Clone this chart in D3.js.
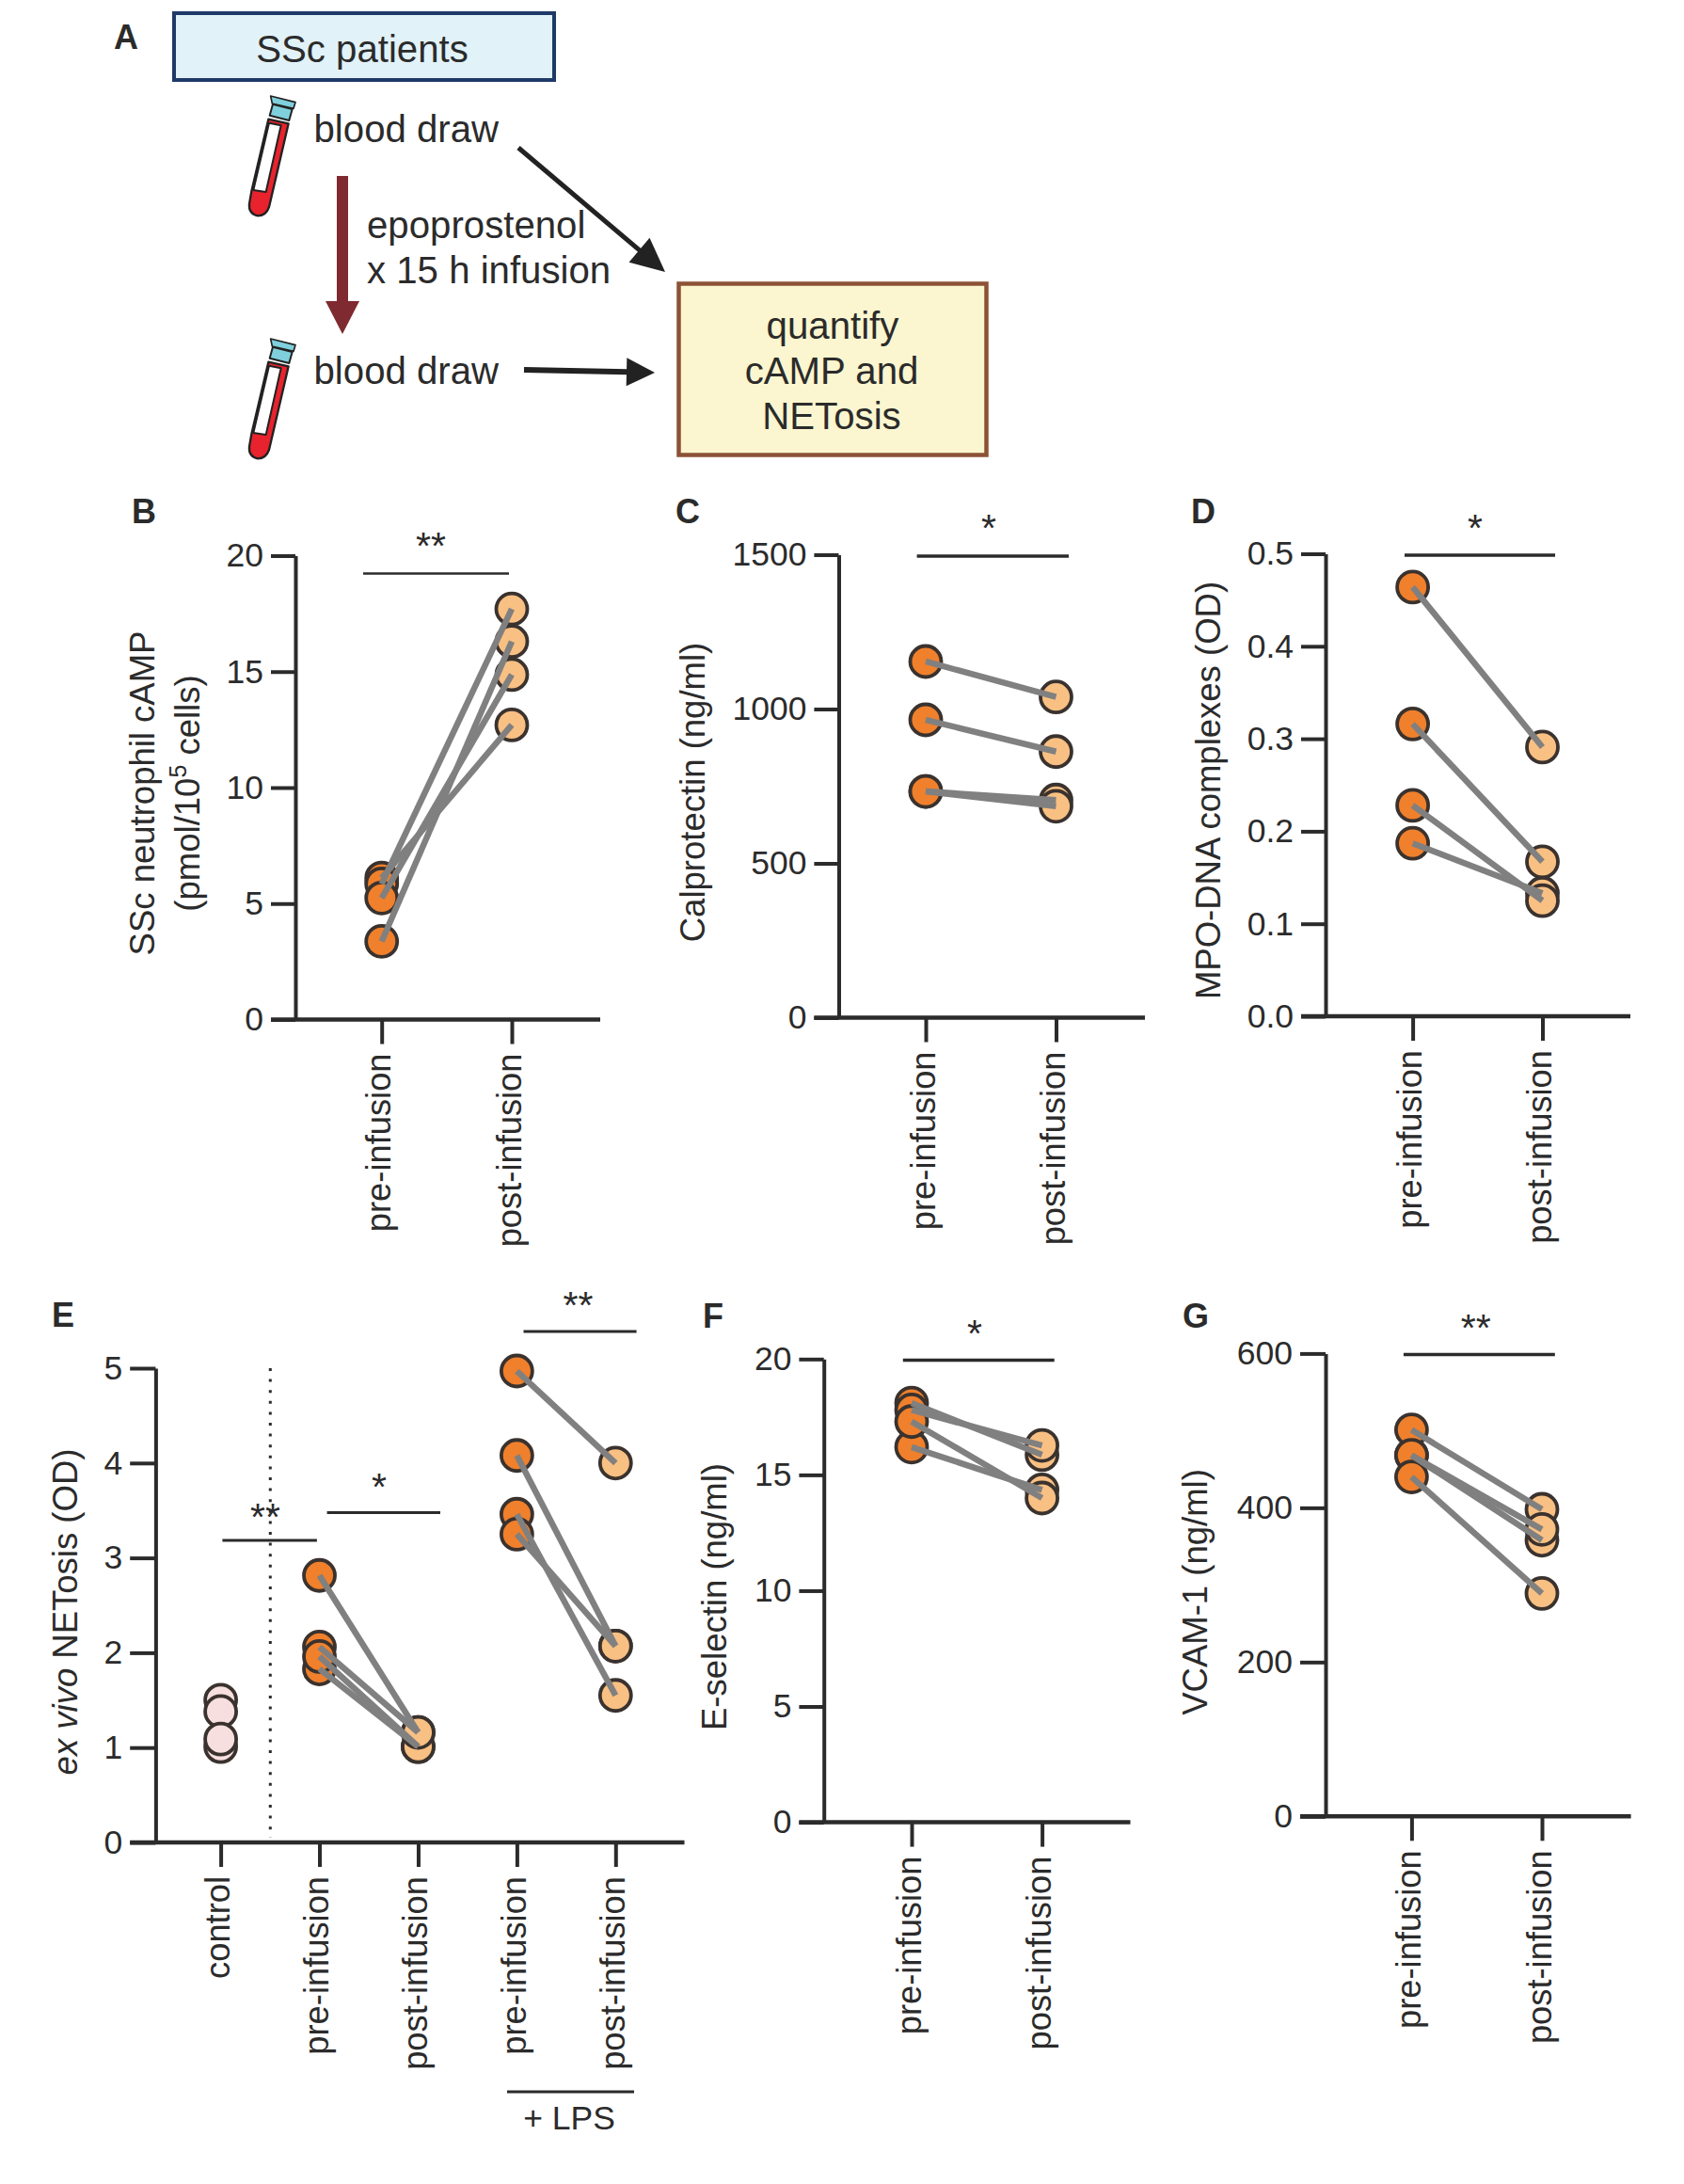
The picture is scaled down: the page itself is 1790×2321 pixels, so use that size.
<!DOCTYPE html>
<html><head><meta charset="utf-8">
<script src="https://cdnjs.cloudflare.com/ajax/libs/d3/7.8.5/d3.min.js"></script>
<style>html,body{margin:0;padding:0;background:#fff}svg{display:block}text{font-family:"Liberation Sans",Arial,sans-serif;fill:#2b2b2b}</style>
</head><body><script>
// ---- data ----
const prePost = ["pre-infusion","post-infusion"];
const eCats = ["control","pre-infusion","post-infusion","pre-infusion ","post-infusion "];
const bTicks=[0,5,10,15,20], bPre=[6.1,5.85,3.37,5.24], bPost=[12.7,17.7,16.3,14.87];
const cTicks=[0,500,1000,1500], cPre=[1154,965,733,733], cPost=[1039,862,705,685];
const dTicks=[0,.1,.2,.3,.4,.5], dPre=[.464,.316,.187,.228], dPost=[.291,.167,.133,.125];
const eTicks=[0,1,2,3,4,5], eControl=[1.5,1.01,1.38,1.09];
const ePre=[1.83,2.06,1.96,2.815], ePost=[1.01,1.16,1.01,1.16];
const eLpsPre=[4.97,4.08,3.46,3.25], eLpsPost=[4.0,2.07,1.55,2.07];
const fTicks=[0,5,10,15,20], fPre=[18.1,17.8,16.2,17.3], fPost=[15.87,16.27,14.35,14.0];
const gTicks=[0,200,400,600], gPre=[468,501,468,440], gPost=[358,398,372,289];

const W=1790,H=2321, ink="#2b2b2b", grey="#808080", dark="#3a322e",
  orange="#f0802c", light="#f9c083", pink="#f8dfdf";
const svg=d3.select("body").append("svg").attr("width",W).attr("height",H);
svg.append("rect").attr("width",W).attr("height",H).attr("fill","#fff");

function panelAxes(o){
  const y=d3.scaleLinear().domain([0,o.max]).range([o.y0,o.yTop]);
  const x=d3.scalePoint().domain(o.cats).range(o.xr);
  const g=svg.append("g");
  const ya=g.append("g").attr("transform",`translate(${o.axisX},0)`)
    .call(d3.axisLeft(y).tickValues(o.ticks).tickSize(o.axisX-o.tickL).tickSizeOuter(0).tickPadding(8).tickFormat(o.fmt||(d=>d)));
  ya.selectAll("path,line").attr("stroke",ink).attr("stroke-width",4);
  ya.selectAll("text").attr("font-size",35.5).attr("font-family",null).attr("fill",ink);
  const xa=g.append("g").attr("transform",`translate(0,${o.y0})`)
    .call(d3.axisBottom(x).tickSize(26).tickSizeOuter(0).tickPadding(11).tickFormat(d=>d.trim()));
  xa.select(".domain").remove();
  xa.selectAll("line").attr("stroke",ink).attr("stroke-width",4);
  xa.selectAll("text").attr("font-size",36.3).attr("fill",ink)
    .attr("text-anchor","end").attr("transform","rotate(-90)").attr("x",-36).attr("y",9).attr("dy",0);
  g.append("line").attr("x1",o.tickL).attr("x2",o.xEnd).attr("y1",o.y0).attr("y2",o.y0).attr("stroke",ink).attr("stroke-width",4.5);
  return {x,y,g};
}
function dots(p,cat,vals,fill){
  p.g.selectAll(null).data(vals).join("circle").attr("cx",p.x(cat)).attr("cy",d=>p.y(d)).attr("r",16.5)
    .attr("fill",fill).attr("stroke",dark).attr("stroke-width",3.8);
}
function links(p,c1,c2,a,b){
  p.g.selectAll(null).data(a.map((d,i)=>[d,b[i]])).join("line")
    .attr("x1",p.x(c1)).attr("x2",p.x(c2)).attr("y1",d=>p.y(d[0])).attr("y2",d=>p.y(d[1]))
    .attr("stroke",grey).attr("stroke-width",6.5);
}
function sig(x1,x2,y,label,sx,sy,w){
  svg.append("line").attr("x1",x1).attr("x2",x2).attr("y1",y).attr("y2",y).attr("stroke",ink).attr("stroke-width",w||3);
  svg.append("text").attr("x",sx).attr("y",sy+19).attr("text-anchor","middle").attr("font-size",41).text(label);
}
function letter(t,x,y){svg.append("text").attr("x",x).attr("y",y).attr("font-size",36).attr("font-weight","bold").text(t);}
function vtitle(parts,x,y){
  const t=svg.append("text").attr("transform",`translate(${x},${y}) rotate(-90)`).attr("text-anchor","middle").attr("font-size",36.5);
  parts.forEach(p=>{const s=t.append("tspan").text(p.t);
    if(p.i)s.attr("font-style","italic");
    if(p.sup)s.attr("font-size",25).attr("dy",-14);
    if(p.back)s.attr("dy",14);});
}
function paired(o,a,b){
  const p=panelAxes(o);
  dots(p,o.cats[0],a,orange);dots(p,o.cats[1],b,light);links(p,o.cats[0],o.cats[1],a,b);
}

// ---- panels ----
paired({cats:prePost,max:20,ticks:bTicks,y0:1083.5,yTop:590.5,xr:[405.7,544],axisX:314,tickL:288,xEnd:638},bPre,bPost);
paired({cats:prePost,max:1500,ticks:cTicks,y0:1081.5,yTop:589.5,xr:[984,1122.5],axisX:891.5,tickL:865.4,xEnd:1217},cPre,cPost);
paired({cats:prePost,max:.5,ticks:dTicks,fmt:d3.format(".1f"),y0:1080,yTop:588.5,xr:[1501.6,1639.5],axisX:1409,tickL:1383,xEnd:1733},dPre,dPost);
paired({cats:prePost,max:20,ticks:fTicks,y0:1936.6,yTop:1444.3,xr:[969,1107.6],axisX:875.7,tickL:849.4,xEnd:1201.5},fPre,fPost);
paired({cats:prePost,max:600,ticks:gTicks,y0:1930.3,yTop:1438.4,xr:[1500.4,1639],axisX:1409,tickL:1382,xEnd:1733.6},gPre,gPost);

const pe=panelAxes({cats:eCats,max:5,ticks:eTicks,y0:1958,yTop:1454,xr:[234.6,654.3],axisX:165.4,tickL:138.2,xEnd:727.5});
pe.g.append("line").attr("x1",287.3).attr("x2",287.3).attr("y1",1454).attr("y2",1953)
  .attr("stroke",ink).attr("stroke-width",3).attr("stroke-dasharray","3 8.6");
dots(pe,eCats[0],eControl,pink);
dots(pe,eCats[1],ePre,orange);dots(pe,eCats[2],ePost,light);links(pe,eCats[1],eCats[2],ePre,ePost);
dots(pe,eCats[3],eLpsPre,orange);dots(pe,eCats[4],eLpsPost,light);links(pe,eCats[3],eCats[4],eLpsPre,eLpsPost);
svg.append("line").attr("x1",539).attr("x2",674).attr("y1",2223).attr("y2",2223).attr("stroke",ink).attr("stroke-width",3);
svg.append("text").attr("x",605).attr("y",2263).attr("text-anchor","middle").attr("font-size",35.5).text("+ LPS");

sig(386,541,609.4,"**",458,574.6,2.5);
sig(974.6,1136,591,"*",1051,556,3.5);
sig(1493,1653,590,"*",1568,555.6,3.5);
sig(236.4,336.9,1637,"**",282,1607);
sig(347.6,468,1607.6,"*",403,1575);
sig(556.5,676.6,1415,"**",614.5,1382);
sig(959.8,1120.7,1445.5,"*",1036,1411.5,3.5);
sig(1491.9,1652.8,1439.6,"**",1568.7,1405.6,3.5);

[["B",140,555.6],["C",718,555.6],["D",1266,555.6],["E",55,1410],["F",747,1411],["G",1257,1411],["A",121,52]].forEach(d=>letter(...d));

vtitle([{t:"SSc neutrophil cAMP"}],164,843);
vtitle([{t:"(pmol/10"},{t:"5",sup:1},{t:" cells)",back:1}],212,843);
vtitle([{t:"Calprotectin (ng/ml)"}],748.5,842);
vtitle([{t:"MPO-DNA complexes (OD)"}],1297,840);
vtitle([{t:"ex vivo",i:1},{t:" NETosis (OD)"}],82.4,1713);
vtitle([{t:"E-selectin (ng/ml)"}],772,1697);
vtitle([{t:"VCAM-1 (ng/ml)"}],1283,1692);

// ---- schematic A ----
const a=svg.append("g");
a.append("rect").attr("x",185).attr("y",14).attr("width",404).attr("height",71).attr("fill","#e1f2f8").attr("stroke","#1f3a68").attr("stroke-width",4);
a.append("rect").attr("x",721.5).attr("y",301.5).attr("width",327).attr("height",182).attr("fill","#fbf6cf").attr("stroke","#8c5236").attr("stroke-width",4.5);
const labelsA=[["SSc patients",385,66,"middle"],["blood draw",333.5,151,"start"],["blood draw",333.5,408,"start"],
 ["epoprostenol",390,253,"start"],["x 15 h infusion",390,301,"start"],["quantify",885,360,"middle"],["cAMP and",884,408,"middle"],["NETosis",884,456,"middle"]];
labelsA.forEach(d=>a.append("text").attr("x",d[1]).attr("y",d[2]).attr("text-anchor",d[3]).attr("font-size",40.2).text(d[0]));
function arrow(x1,y1,x2,y2,sw,hl,hw,col){
  const ang=Math.atan2(y2-y1,x2-x1),L=Math.hypot(x2-x1,y2-y1);
  const g=a.append("g").attr("transform",`translate(${x1},${y1}) rotate(${ang*180/Math.PI})`);
  g.append("line").attr("x2",L-hl+1).attr("stroke",col).attr("stroke-width",sw);
  g.append("path").attr("d",`M${L},0L${L-hl},${-hw}L${L-hl},${hw}Z`).attr("fill",col);
}
arrow(364,187,364,355,12,35,18,"#7f2a30");
arrow(551,157,707,289,5,36,17,"#222");
arrow(557,393,696,396,6,30,15,"#222");
const tubeY=[0,258];
tubeY.forEach(dy=>{
  const t=a.append("g").attr("transform",`translate(250,${90+dy}) scale(0.3333)`).attr("stroke","#222").attr("stroke-linejoin","round");
  t.append("path").attr("d","M106,110L170,124L108,390Q98,418 72,418Q42,412 45,380L52,340Z").attr("fill","#e8232d").attr("stroke-width",7);
  t.append("path").attr("d","M108,122L146,130L98,342L58,336Z").attr("fill","#fff").attr("stroke-width",6);
  t.append("path").attr("d","M120,62L182,78L172,114L110,98Z").attr("fill","#7fd0dc").attr("stroke-width",6);
  t.append("path").attr("d","M113,36L192,56L186,76L118,60Z").attr("fill","#7fd0dc").attr("stroke-width",5);
});
</script></body></html>
